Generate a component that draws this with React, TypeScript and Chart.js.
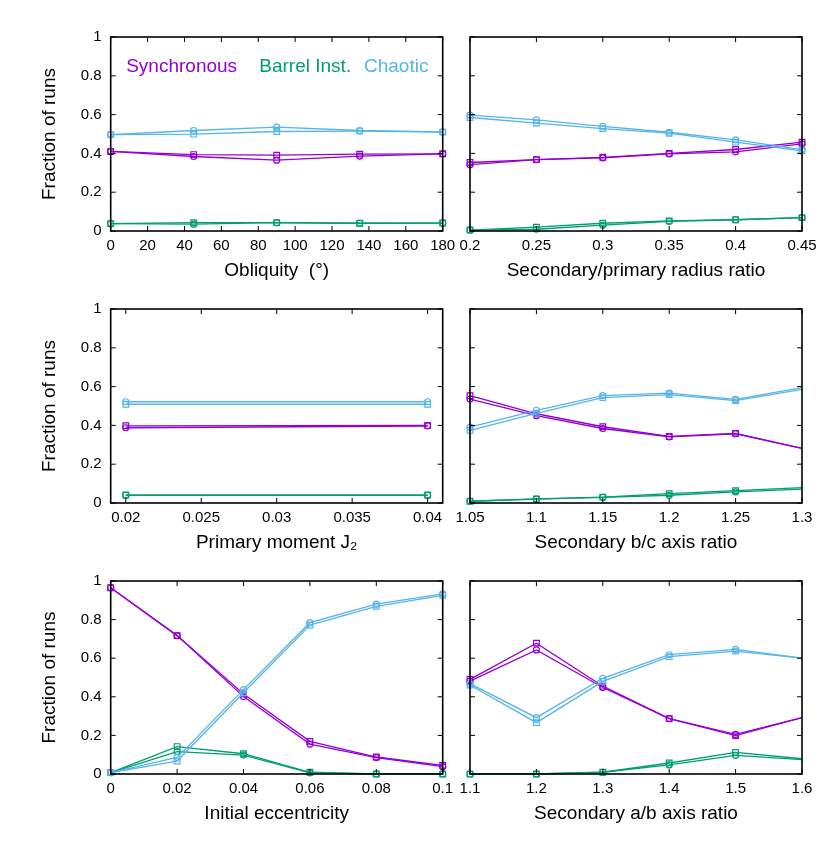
import React, { useEffect, useRef } from "react";
import { Chart, registerables } from "chart.js";

Chart.register(...registerables);

const FONT = '"Liberation Sans", Arial, Helvetica, sans-serif';
const C_SYNC = "#9400D3";
const C_BARREL = "#009E73";
const C_CHAOS = "#56B4E9";

// Y axis (shared)
const Y_TICKS = [0, 0.2, 0.4, 0.6, 0.8, 1];

// Panel 1: obliquity
const OBL_X = [0, 45, 90, 135, 180];
const OBL_TICKS = [0, 20, 40, 60, 80, 100, 120, 140, 160, 180];
const OBL_SYNC_A = [0.41, 0.384, 0.365, 0.386, 0.398];
const OBL_SYNC_B = [0.41, 0.394, 0.391, 0.396, 0.398];
const OBL_BARREL_A = [0.038, 0.035, 0.043, 0.04, 0.041];
const OBL_BARREL_B = [0.038, 0.043, 0.043, 0.04, 0.041];
const OBL_CHAOS_A = [0.497, 0.518, 0.535, 0.518, 0.511];
const OBL_CHAOS_B = [0.497, 0.499, 0.513, 0.515, 0.51];

// Panel 2: radius ratio
const RAD_X = [0.2, 0.25, 0.3, 0.35, 0.4, 0.45];
const RAD_TICKS = [0.2, 0.25, 0.3, 0.35, 0.4, 0.45];
const RAD_SYNC_A = [0.342, 0.368, 0.377, 0.398, 0.408, 0.449];
const RAD_SYNC_B = [0.353, 0.368, 0.38, 0.4, 0.42, 0.458];
const RAD_BARREL_A = [0.005, 0.009, 0.03, 0.05, 0.058, 0.069];
const RAD_BARREL_B = [0.005, 0.02, 0.04, 0.052, 0.058, 0.069];
const RAD_CHAOS_A = [0.597, 0.573, 0.539, 0.509, 0.47, 0.42];
const RAD_CHAOS_B = [0.585, 0.556, 0.528, 0.504, 0.458, 0.413];

// Panel 3: J2
const J2_X = [0.02, 0.04];
const J2_TICKS = [0.02, 0.025, 0.03, 0.035, 0.04];
const J2_SYNC_A = [0.388, 0.397];
const J2_SYNC_B = [0.398, 0.4];
const J2_BARREL_A = [0.04, 0.04];
const J2_BARREL_B = [0.041, 0.041];
const J2_CHAOS_A = [0.522, 0.522];
const J2_CHAOS_B = [0.509, 0.509];

// Panel 4: b/c axis ratio
const BC_X = [1.05, 1.1, 1.15, 1.2, 1.25, 1.3];
const BC_TICKS = [1.05, 1.1, 1.15, 1.2, 1.25, 1.3];
const BC_SYNC_A = [0.536, 0.45, 0.384, 0.341, 0.357, 0.281];
const BC_SYNC_B = [0.553, 0.46, 0.393, 0.343, 0.359, 0.281];
const BC_BARREL_A = [0.009, 0.02, 0.029, 0.04, 0.057, 0.072];
const BC_BARREL_B = [0.009, 0.021, 0.03, 0.048, 0.064, 0.079];
const BC_CHAOS_A = [0.391, 0.478, 0.553, 0.566, 0.534, 0.595];
const BC_CHAOS_B = [0.374, 0.462, 0.543, 0.559, 0.528, 0.586];

// Panel 5: eccentricity
const ECC_X = [0, 0.02, 0.04, 0.06, 0.08, 0.1];
const ECC_TICKS = [0, 0.02, 0.04, 0.06, 0.08, 0.1];
const ECC_SYNC_A = [0.965, 0.717, 0.401, 0.155, 0.085, 0.038];
const ECC_SYNC_B = [0.965, 0.717, 0.415, 0.169, 0.088, 0.045];
const ECC_BARREL_A = [0.007, 0.116, 0.098, 0.006, 0, 0];
const ECC_BARREL_B = [0.007, 0.142, 0.105, 0.009, 0, 0];
const ECC_CHAOS_A = [0.007, 0.086, 0.437, 0.784, 0.88, 0.933];
const ECC_CHAOS_B = [0.007, 0.067, 0.421, 0.772, 0.869, 0.926];

// Panel 6: a/b axis ratio
const AB_X = [1.1, 1.2, 1.3, 1.4, 1.5, 1.6];
const AB_TICKS = [1.1, 1.2, 1.3, 1.4, 1.5, 1.6];
const AB_SYNC_A = [0.481, 0.643, 0.448, 0.287, 0.205, 0.292];
const AB_SYNC_B = [0.49, 0.678, 0.455, 0.287, 0.199, 0.292];
const AB_BARREL_A = [0, 0, 0.009, 0.047, 0.097, 0.074];
const AB_BARREL_B = [0, 0, 0.009, 0.057, 0.112, 0.079];
const AB_CHAOS_A = [0.468, 0.292, 0.496, 0.618, 0.646, 0.6];
const AB_CHAOS_B = [0.461, 0.266, 0.48, 0.608, 0.637, 0.6];

type PanelDef = {
  title: string;
  xs: number[];
  xMin: number;
  xMax: number;
  xTicks: number[];
  series: { a: number[]; b: number[]; color: string }[];
  left: boolean;
  legend?: boolean;
  hideLast?: boolean;
  pos: { x: number; y: number; w: number; h: number };
};

const LEFT_W = 480;
const LEFT_PAD_R = 37.3;
const RIGHT_X = 420;
const RIGHT_W = 410;
const RIGHT_AXIS_W = 50;
const ROWS = [
  { y: 17, h: 272 },
  { y: 289, h: 272 },
  { y: 561, h: 271 },
];

const PANELS: PanelDef[] = [
  {
    title: "Obliquity  (°)", xs: OBL_X, xMin: 0, xMax: 180, xTicks: OBL_TICKS,
    series: [
      { a: OBL_CHAOS_A, b: OBL_CHAOS_B, color: C_CHAOS },
      { a: OBL_BARREL_A, b: OBL_BARREL_B, color: C_BARREL },
      { a: OBL_SYNC_A, b: OBL_SYNC_B, color: C_SYNC },
    ],
    left: true, legend: true, pos: { x: 0, y: ROWS[0].y, w: LEFT_W, h: ROWS[0].h },
  },
  {
    title: "Secondary/primary radius ratio", xs: RAD_X, xMin: 0.2, xMax: 0.45, xTicks: RAD_TICKS,
    series: [
      { a: RAD_CHAOS_A, b: RAD_CHAOS_B, color: C_CHAOS },
      { a: RAD_BARREL_A, b: RAD_BARREL_B, color: C_BARREL },
      { a: RAD_SYNC_A, b: RAD_SYNC_B, color: C_SYNC },
    ],
    left: false, pos: { x: RIGHT_X, y: ROWS[0].y, w: RIGHT_W, h: ROWS[0].h },
  },
  {
    title: "Primary moment J\u2082", xs: J2_X, xMin: 0.019, xMax: 0.041, xTicks: J2_TICKS,
    series: [
      { a: J2_CHAOS_A, b: J2_CHAOS_B, color: C_CHAOS },
      { a: J2_BARREL_A, b: J2_BARREL_B, color: C_BARREL },
      { a: J2_SYNC_A, b: J2_SYNC_B, color: C_SYNC },
    ],
    left: true, pos: { x: 0, y: ROWS[1].y, w: LEFT_W, h: ROWS[1].h },
  },
  {
    title: "Secondary b/c axis ratio", xs: BC_X, xMin: 1.05, xMax: 1.3, xTicks: BC_TICKS,
    series: [
      { a: BC_CHAOS_A, b: BC_CHAOS_B, color: C_CHAOS },
      { a: BC_BARREL_A, b: BC_BARREL_B, color: C_BARREL },
      { a: BC_SYNC_A, b: BC_SYNC_B, color: C_SYNC },
    ],
    left: false, hideLast: true, pos: { x: RIGHT_X, y: ROWS[1].y, w: RIGHT_W, h: ROWS[1].h },
  },
  {
    title: "Initial eccentricity", xs: ECC_X, xMin: 0, xMax: 0.1, xTicks: ECC_TICKS,
    series: [
      { a: ECC_CHAOS_A, b: ECC_CHAOS_B, color: C_CHAOS },
      { a: ECC_BARREL_A, b: ECC_BARREL_B, color: C_BARREL },
      { a: ECC_SYNC_A, b: ECC_SYNC_B, color: C_SYNC },
    ],
    left: true, pos: { x: 0, y: ROWS[2].y, w: LEFT_W, h: ROWS[2].h },
  },
  {
    title: "Secondary a/b axis ratio", xs: AB_X, xMin: 1.1, xMax: 1.6, xTicks: AB_TICKS,
    series: [
      { a: AB_CHAOS_A, b: AB_CHAOS_B, color: C_CHAOS },
      { a: AB_BARREL_A, b: AB_BARREL_B, color: C_BARREL },
      { a: AB_SYNC_A, b: AB_SYNC_B, color: C_SYNC },
    ],
    left: false, hideLast: true, pos: { x: RIGHT_X, y: ROWS[2].y, w: RIGHT_W, h: ROWS[2].h },
  },
];

function Panel({ def }: { def: PanelDef }) {
  const ref = useRef<HTMLCanvasElement | null>(null);
  useEffect(() => {
    if (!ref.current) return;
    const n = def.xs.length;
    const datasets: any[] = [];
    def.series.forEach((s) => {
      [
        { vals: s.a, style: "circle", r: 3 },
        { vals: s.b, style: "rect", r: 4 },
      ].forEach((v) => {
        datasets.push({
          data: def.xs.map((x, i) => ({ x, y: v.vals[i] })),
          borderColor: s.color,
          backgroundColor: "rgba(0,0,0,0)",
          borderWidth: 1.3,
          pointStyle: v.style,
          pointRadius: (ctx: any) => (def.hideLast && ctx.dataIndex === n - 1 ? 0 : v.r),
          pointBorderWidth: 1.2,
          pointBorderColor: s.color,
          pointBackgroundColor: "rgba(0,0,0,0)",
          tension: 0,
          clip: false,
        });
      });
    });

    const frame = {
      id: "gnuFrame",
      afterDraw(chart: any) {
        const { ctx, chartArea: a, scales } = chart;
        const xs = scales.x;
        const ys = scales.y;
        ctx.save();
        ctx.strokeStyle = "#000";
        ctx.lineWidth = 1;
        ctx.beginPath();
        def.xTicks.forEach((v) => {
          const px = xs.getPixelForValue(v);
          ctx.moveTo(px, a.bottom);
          ctx.lineTo(px, a.bottom - 5);
          ctx.moveTo(px, a.top);
          ctx.lineTo(px, a.top + 5);
        });
        Y_TICKS.forEach((v) => {
          const py = ys.getPixelForValue(v);
          ctx.moveTo(a.left, py);
          ctx.lineTo(a.left + 5, py);
          ctx.moveTo(a.right, py);
          ctx.lineTo(a.right - 5, py);
        });
        ctx.stroke();
        ctx.lineWidth = 1.6;
        ctx.strokeRect(a.left, a.top, a.right - a.left, a.bottom - a.top);
        if (def.legend) {
          ctx.font = `19px ${FONT}`;
          ctx.textBaseline = "middle";
          ctx.textAlign = "left";
          ctx.fillStyle = C_SYNC;
          ctx.fillText("Synchronous", a.left + 15.5, a.top + 30);
          ctx.fillStyle = C_BARREL;
          ctx.fillText("Barrel Inst.", a.left + 148.6, a.top + 30);
          ctx.fillStyle = C_CHAOS;
          ctx.fillText("Chaotic", a.left + 253.3, a.top + 30);
        }
        ctx.restore();
      },
    };

    const chart = new Chart(ref.current, {
      type: "line",
      data: { datasets },
      plugins: [frame],
      options: {
        animation: false,
        responsive: false,
        maintainAspectRatio: false,
        parsing: false as any,
        layout: {
          padding: { left: 0, right: def.left ? LEFT_PAD_R : 28, top: 20, bottom: 0 },
        },
        plugins: { legend: { display: false }, tooltip: { enabled: false } },
        scales: {
          x: {
            type: "linear",
            min: def.xMin,
            max: def.xMax,
            bounds: "data",
            afterBuildTicks: (s: any) => {
              s.ticks = def.xTicks.map((v) => ({ value: v }));
            },
            afterFit: (s: any) => {
              s.height = 58;
            },
            grid: { display: false, drawTicks: false },
            border: { display: false },
            ticks: {
              autoSkip: false,
              maxRotation: 0,
              minRotation: 0,
              padding: 6,
              color: "#000",
              font: { size: 15, family: FONT },
              callback: (v: any) => String(v),
            },
            title: {
              display: true,
              text: def.title,
              color: "#000",
              font: { size: 19, family: FONT },
              padding: { top: 0, bottom: 6.6 },
            },
          },
          y: {
            type: "linear",
            min: 0,
            max: 1,
            bounds: "data",
            afterBuildTicks: (s: any) => {
              s.ticks = Y_TICKS.map((v) => ({ value: v }));
            },
            afterFit: (s: any) => {
              s.width = def.left ? 110.7 : RIGHT_AXIS_W;
            },
            grid: { display: false, drawTicks: false },
            border: { display: false },
            ticks: {
              display: def.left,
              padding: 9,
              color: "#000",
              font: { size: 15, family: FONT },
              callback: (v: any) => String(v),
            },
            title: {
              display: def.left,
              text: "Fraction of runs",
              color: "#000",
              font: { size: 19, family: FONT },
              padding: { top: 38, bottom: 0 },
            },
          },
        },
      } as any,
    });
    return () => chart.destroy();
  }, [def]);

  return (
    <canvas
      ref={ref}
      width={def.pos.w}
      height={def.pos.h}
      style={{
        position: "absolute",
        left: def.pos.x,
        top: def.pos.y,
        width: def.pos.w,
        height: def.pos.h,
      }}
    />
  );
}

export default function App() {
  return (
    <div
      style={{
        position: "absolute",
        left: 0,
        top: 0,
        width: 830,
        height: 852,
        background: "#fff",
      }}
    >
      {PANELS.map((p, i) => (
        <Panel key={i} def={p} />
      ))}
    </div>
  );
}
